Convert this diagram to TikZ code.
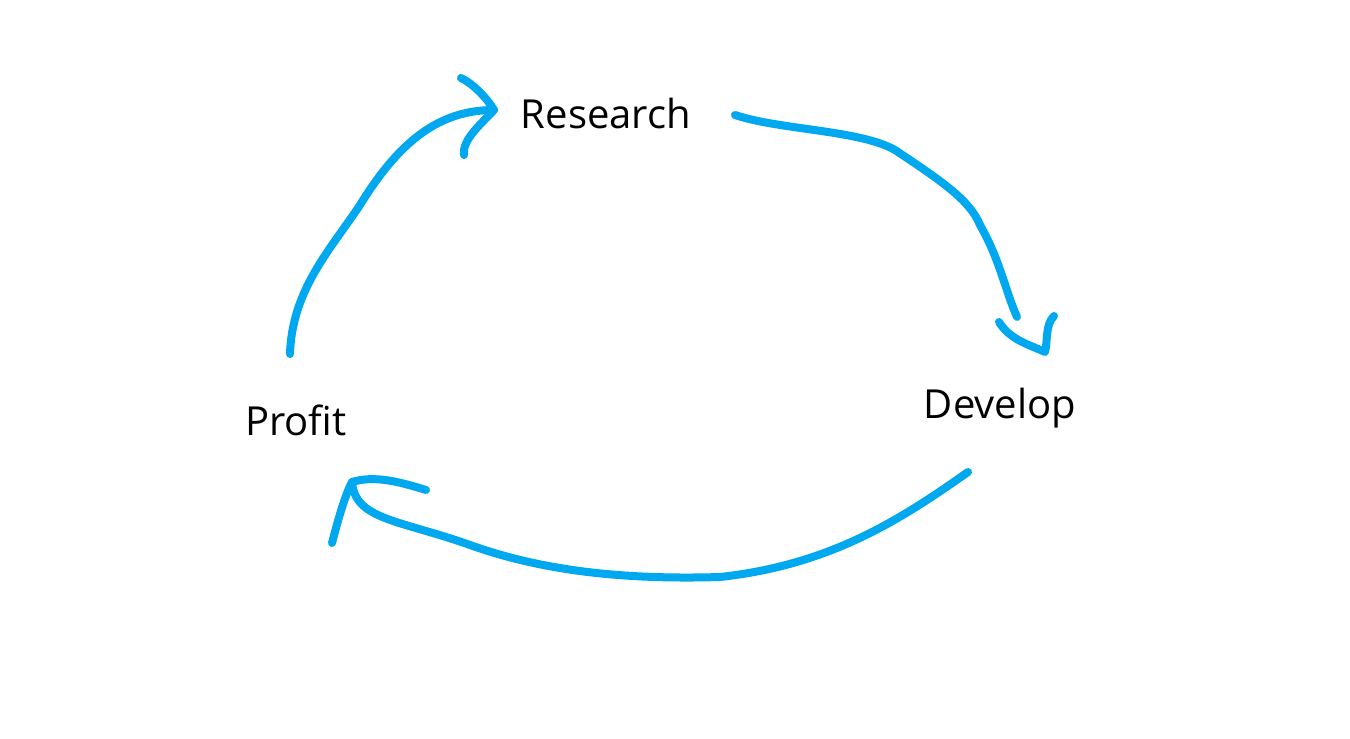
\documentclass[tikz,border=0pt]{standalone}
\usepackage{fontspec}
\setmainfont{Open Sans}
\definecolor{pen}{RGB}{0,168,240}
\begin{document}
\begin{tikzpicture}[x=1pt,y=-1pt,
  lbl/.style={font=\fontsize{40}{48}\selectfont, text=black, inner sep=0pt},
  ink/.style={draw=pen, line width=8pt, line cap=round, line join=round}]
\useasboundingbox (0,0) rectangle (1350,739);
\node[lbl] (research) at (606,113) {Research};
\node[lbl] (develop) at (1000,408) {Develop};
\node[lbl] (profit) at (296,420) {Profit};
% Profit -> Research
\coordinate (a0) at (290,354);
\coordinate (a1) at (494,110);
\coordinate (a2) at (461,78);
\coordinate (a3) at (464,155);
\draw[ink] (a0) .. controls (292,290) and (330,250) .. (360,205)
  .. controls (400,140) and (440,110) .. (a1);
\draw[ink] (a2) .. controls (470,82) and (485,95) .. (a1) .. controls (480,125) and (462,140) .. (a3);
% Research -> Develop
\coordinate (b0) at (735,115);
\coordinate (b1) at (1017,317);
\coordinate (b2) at (999,322);
\coordinate (b3) at (1045,352);
\coordinate (b4) at (1054,316);
\draw[ink] (b0) .. controls (780,130) and (860,130) .. (895,150)
  .. controls (940,180) and (970,200) .. (980,225)
  .. controls (1000,260) and (1005,290) .. (b1);
\draw[ink] (b2) .. controls (1010,340) and (1030,345) .. (b3) .. controls (1048,340) and (1045,325) .. (b4);
% Develop -> Profit
\coordinate (c0) at (968,472);
\coordinate (c1) at (352,482);
\coordinate (c2) at (426,490);
\coordinate (c3) at (332,543);
\draw[ink] (c0) .. controls (900,520) and (830,565) .. (720,577)
  .. controls (620,580) and (540,570) .. (470,545)
  .. controls (400,520) and (355,520) .. (c1);
\draw[ink] (c2) .. controls (400,482) and (375,475) .. (c1) .. controls (345,495) and (338,520) .. (c3);
\end{tikzpicture}
\end{document}
